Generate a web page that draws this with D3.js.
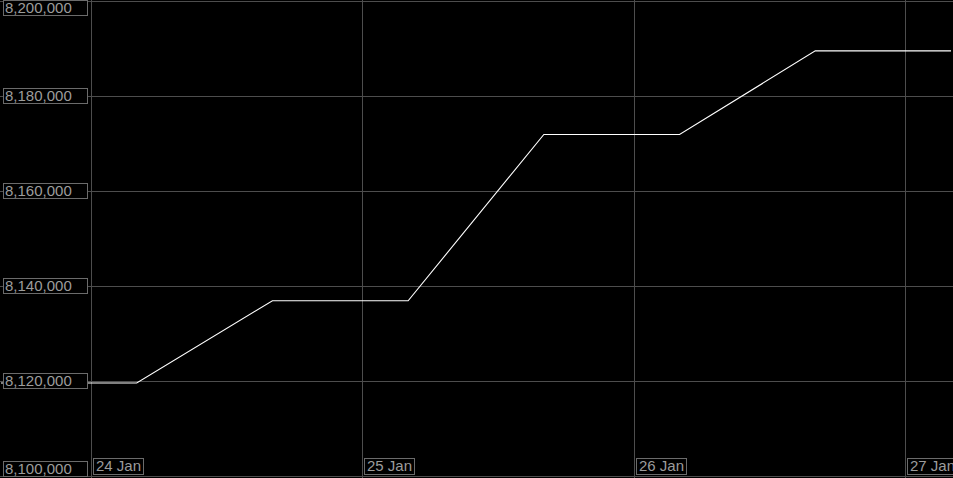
<!DOCTYPE html>
<html>
<head>
<meta charset="utf-8">
<script src="https://cdn.jsdelivr.net/npm/d3@7/dist/d3.min.js"></script>
<style>
  html, body { margin: 0; padding: 0; background: #000; overflow: hidden; }
  svg { display: block; }
</style>
</head>
<body>
<svg id="chart" width="953" height="478"></svg>
<script>
// ---- data ----
const times = ["23 Jan 16:00", "24 Jan 04:00", "24 Jan 16:00", "25 Jan 04:00",
               "25 Jan 16:00", "26 Jan 04:00", "26 Jan 16:00", "27 Jan 04:00"];
const values = [8119700, 8119700, 8137000, 8137000, 8172000, 8172000, 8189600, 8189600];
const yTicks = [8100000, 8120000, 8140000, 8160000, 8180000, 8200000];
const xTickLabels = ["24 Jan", "25 Jan", "26 Jan", "27 Jan"];

// ---- setup ----
const W = 953, H = 478;
const parse = d3.timeParse("%d %b %H:%M");
const parseDay = d3.timeParse("%d %b");
const data = times.map((t, i) => ({ t: parse(t), v: values[i] }));
const xTicks = xTickLabels.map(s => parseDay(s));

const x = d3.scaleTime()
  .domain([data[0].t, data[data.length - 1].t])
  .range([1, 951]);
const y = d3.scaleLinear()
  .domain([8100000, 8200000])
  .range([476.5, 1.5]);

const svg = d3.select("#chart");
svg.append("rect").attr("width", W).attr("height", H).attr("fill", "#000");

const gridColor = "#4d4d4d";
const boxStroke = "#6b6b6b";
const textColor = "#9c9c9c";
const font = "'Liberation Sans', Arial, sans-serif";
const crisp = v => Math.floor(v) + 0.5;

// horizontal gridlines
svg.append("g").selectAll("line").data(yTicks).join("line")
  .attr("x1", 0).attr("x2", W)
  .attr("y1", d => crisp(y(d))).attr("y2", d => crisp(y(d)))
  .attr("stroke", gridColor).attr("stroke-width", 1);

// vertical gridlines
svg.append("g").selectAll("line").data(xTicks).join("line")
  .attr("x1", d => crisp(x(d))).attr("x2", d => crisp(x(d)))
  .attr("y1", 0).attr("y2", H)
  .attr("stroke", gridColor).attr("stroke-width", 1);

// data line
const line = d3.line().x(d => x(d.t)).y(d => y(d.v)).curve(d3.curveLinear);
svg.append("path").datum(data)
  .attr("d", line)
  .attr("fill", "none")
  .attr("stroke", "#ffffff")
  .attr("stroke-width", 1.1);

// y labels (boxed)
const fmt = d3.format(",");
const yg = svg.append("g").selectAll("g").data(yTicks).join("g")
  .attr("transform", d => {
    let top = Math.floor(y(d)) - 8;
    top = Math.max(0, Math.min(H - 17, top));
    return `translate(0,${top})`;
  });
yg.append("rect")
  .attr("x", 3.5).attr("y", 0.5).attr("width", 84).attr("height", 15)
  .attr("fill", "#000").attr("stroke", boxStroke);
yg.append("text")
  .attr("x", 5).attr("y", 13)
  .attr("fill", textColor)
  .attr("font-family", font).attr("font-size", 15)
  .text(d => fmt(d));

// x labels (boxed)
const xg = svg.append("g").selectAll("g").data(xTicks).join("g")
  .attr("transform", d => `translate(${Math.floor(x(d)) + 2},458)`);
xg.append("text")
  .attr("x", 3).attr("y", 13)
  .attr("fill", textColor)
  .attr("font-family", font).attr("font-size", 15)
  .text((d, i) => xTickLabels[i]);
xg.each(function() {
  const g = d3.select(this);
  const tw = g.select("text").node().getComputedTextLength();
  g.insert("rect", "text")
    .attr("x", 0.5).attr("y", 0.5).attr("width", Math.round(tw) + 5).attr("height", 16)
    .attr("fill", "#000").attr("stroke", boxStroke);
});
</script>
</body>
</html>
